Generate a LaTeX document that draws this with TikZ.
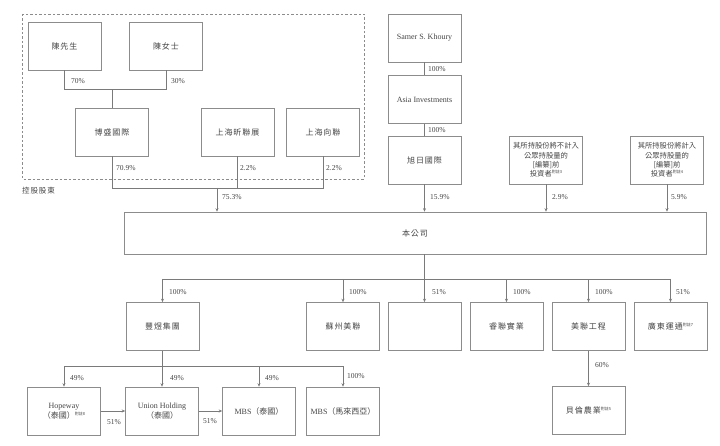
\documentclass[tikz,border=0pt]{standalone}
\usepackage{fontspec}
\setmainfont{Liberation Serif}
\newfontfamily\cjk[LetterSpace=12]{Noto Sans CJK TC}
\newfontfamily\cjkt{Noto Sans CJK TC}
\usetikzlibrary{arrows.meta}
\definecolor{boxgray}{HTML}{8C8C8C}
\definecolor{linegray}{HTML}{7A7A7A}
\definecolor{txt}{HTML}{444444}
\newcommand{\myfn}[1]{\raisebox{3pt}{\cjkt\fontsize{4}{4}\selectfont 附註#1}}
\begin{document}
\begin{tikzpicture}[x=1pt,y=-1pt,
  box/.style={draw=boxgray, line width=0.6pt, minimum width=73pt, minimum height=48pt,
    inner sep=1pt, align=center, font=\fontsize{8}{10}\selectfont, text=txt},
  invbox/.style={box, font=\fontsize{7.3}{9.4}\selectfont\cjkt},
  pct/.style={anchor=west, font=\fontsize{7.5}{9}\selectfont, text=txt, inner sep=0pt},
  conn/.style={draw=linegray, line width=0.6pt},
  arr/.style={conn, -{Stealth[length=3.5pt,width=3pt]}}]
\useasboundingbox (0,0) rectangle (720,446);

% dashed group
\draw[draw=boxgray, line width=0.6pt, dash pattern=on 2.5pt off 2pt] (22,14) rectangle (364,179);
\node[anchor=west, inner sep=0pt, text=txt, font=\fontsize{7.5}{9}\selectfont\cjk] (kgtitle) at (22,191) {控股股東};

% top boxes
\node[box] (chen1) at (64.5,46) {\cjk 陳先生};
\node[box] (chen2) at (166,46) {\cjk 陳女士};
\node[box] (bosheng) at (112,132) {\cjk 博盛國際};
\node[box] (xinlian) at (237.5,132) {\cjk 上海昕聯展};
\node[box] (xianglian) at (323,132) {\cjk 上海向聯};
\node[box] (samer) at (424.5,38) {Samer S. Khoury};
\node[box] (asia) at (424.5,99.5) {Asia Investments};
\node[box] (xuri) at (424.5,160) {\cjk 旭日國際};
\node[invbox] (inv1) at (546,160) {其所持股份將不計入\\公眾持股量的\\{}[編纂]前\\投資者\myfn{3}};
\node[invbox] (inv2) at (667,160) {其所持股份將計入\\公眾持股量的\\{}[編纂]前\\投資者\myfn{4}};

% company
\node[box, minimum width=582pt, minimum height=42pt] (company) at (415,233) {\cjk 本公司};

% subsidiaries
\node[box] (fengyu) at (162.5,326.5) {\cjk 豐煜集團};
\node[box] (suzhou) at (343,326.5) {\cjk 蘇州美聯};
\node[box] (blank) at (424.5,326.5) {};
\node[box] (ruilian) at (506.5,326.5) {\cjk 睿聯實業};
\node[box] (meilian) at (588.5,326.5) {\cjk 美聯工程};
\node[box] (guangdong) at (670.5,326.5) {\cjk 廣東運通\myfn{7}};
\node[box] (hopeway) at (64,411) {Hopeway\\{\cjkt （泰國）}\myfn{8}};
\node[box] (union) at (162,411) {Union Holding\\{\cjkt （泰國）}};
\node[box] (mbsth) at (259,411) {MBS{\cjkt （泰國）}};
\node[box] (mbsmy) at (343,411) {MBS{\cjkt （馬來西亞）}};
\node[box] (beilun) at (588.5,410.5) {\cjk 貝倫農業\myfn{5}};

% connectors - controlling shareholders
\draw[conn] (chen1.south) -- ++(0,19) -| (chen2.south);
\draw[conn] (bosheng.north) -- ++(0,-19);
\draw[conn] (bosheng.south) -- ++(0,32) -| (xianglian.south);
\draw[conn] (xinlian.south) -- ++(0,32);
\coordinate (c75) at (217,188);
\draw[arr] (c75) -- (c75 |- company.north);

% Samer chain
\draw[conn] (samer) -- (asia);
\draw[conn] (asia) -- (xuri);
\draw[arr] (xuri.south) -- (xuri.south |- company.north);
\draw[arr] (inv1.south) -- (inv1.south |- company.north);
\draw[arr] (inv2.south) -- (inv2.south |- company.north);

% company to subsidiaries
\coordinate (bus) at (0,279);
\draw[conn] (blank.north |- company.south) -- (blank.north |- bus);
\draw[conn] (fengyu.north |- bus) -- (guangdong.north |- bus);
\foreach \n in {fengyu,suzhou,blank,ruilian,meilian,guangdong}
  \draw[arr] (\n.north |- bus) -- (\n.north);

% fengyu group
\coordinate (bus2) at (0,366);
\draw[conn] (fengyu.south) -- (fengyu.south |- bus2);
\draw[conn] (hopeway.north |- bus2) -- (mbsmy.north |- bus2);
\foreach \n in {hopeway,union,mbsth,mbsmy}
  \draw[arr] (\n.north |- bus2) -- (\n.north);
\draw[arr] (hopeway.east) -- (union.west);
\draw[arr] (union.east) -- (mbsth.west);
\draw[arr] (meilian.south) -- (beilun.north);

% labels
\node[pct] (p1) at (71,81) {70\%};
\node[pct] (p2) at (171,81) {30\%};
\node[pct] (p3) at (116,168) {70.9\%};
\node[pct] (p4) at (240,168) {2.2\%};
\node[pct] (p5) at (326,168) {2.2\%};
\node[pct] (p6) at (222,197) {75.3\%};
\node[pct] (p7) at (428,69) {100\%};
\node[pct] (p8) at (428,130) {100\%};
\node[pct] (p9) at (430,197) {15.9\%};
\node[pct] (p10) at (552,197) {2.9\%};
\node[pct] (p11) at (671,197) {5.9\%};
\node[pct] (p12) at (169,292) {100\%};
\node[pct] (p13) at (349,292) {100\%};
\node[pct] (p14) at (432,292) {51\%};
\node[pct] (p15) at (513,292) {100\%};
\node[pct] (p16) at (595,292) {100\%};
\node[pct] (p17) at (676,292) {51\%};
\node[pct] (p18) at (595,365) {60\%};
\node[pct] (p19) at (70,378) {49\%};
\node[pct] (p20) at (170,378) {49\%};
\node[pct] (p21) at (265,378) {49\%};
\node[pct] (p22) at (347,376) {100\%};
\node[pct] (p23) at (107,422) {51\%};
\node[pct] (p24) at (203,421) {51\%};
\end{tikzpicture}
\end{document}
